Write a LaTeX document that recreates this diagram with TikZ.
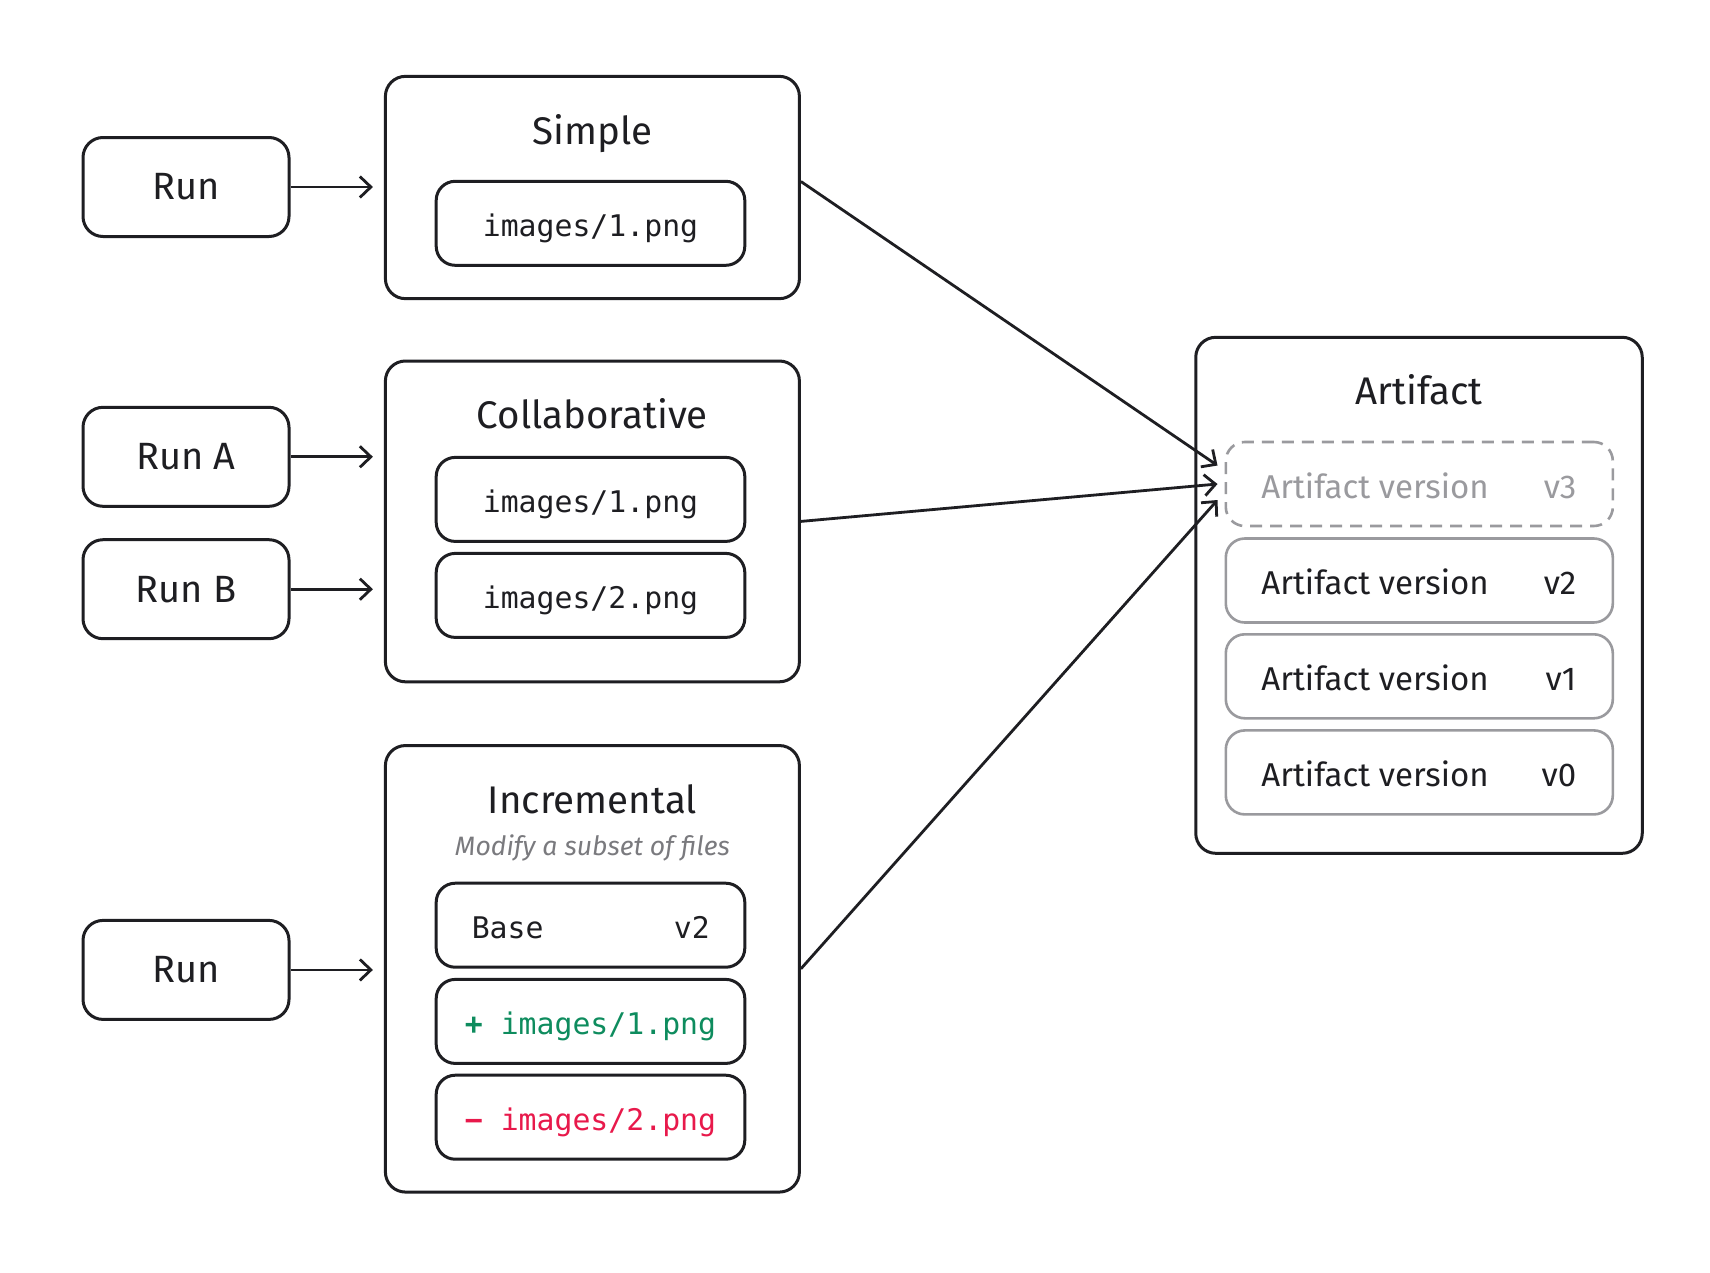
\documentclass[tikz,border=0pt]{standalone}
\usepackage{fontspec}
\setmainfont{Fira Sans}
\newfontfamily\monofont{DejaVu Sans Mono}
\usetikzlibrary{arrows.meta}
\definecolor{ink}{HTML}{1E1E22}
\definecolor{vgray}{HTML}{9A9A9E}
\definecolor{addgreen}{HTML}{0E8C5E}
\definecolor{delred}{HTML}{E8194B}
\definecolor{subgray}{HTML}{7A7A7E}
\begin{document}
\begin{tikzpicture}[x=1pt,y=-1pt,
  frame/.style={draw=ink, line width=3pt, rounded corners=20pt, inner sep=0pt, fill=white},
  container/.style={frame, minimum width=414pt},
  runbox/.style={frame, minimum width=206pt, minimum height=99pt, font=\fontsize{38}{44}\selectfont, text=ink},
  filebox/.style={frame, minimum width=308.6pt, minimum height=84pt, rounded corners=19pt},
  verbox/.style={draw=vgray, line width=2.6pt, rounded corners=19pt, inner sep=0pt, fill=white, minimum width=387pt, minimum height=84pt},
  title/.style={anchor=base, inner sep=0pt, font=\fontsize{38.5}{44}\selectfont, text=ink},
  subtitle/.style={anchor=base, inner sep=0pt, font=\itshape\fontsize{26.6}{32}\selectfont, text=subgray},
  mono/.style={anchor=base, inner sep=0pt, font=\monofont\fontsize{29.8}{34}\selectfont, text=ink},
  vertext/.style={inner sep=0pt, font=\fontsize{33}{40}\selectfont, text=ink},
  conn/.style={draw=ink, line width=2.8pt, -{Straight Barb[length=11pt, width=21pt]}},
]
\fill[white] (0,0) rectangle (1710,1272);
\useasboundingbox (0,0) rectangle (1710,1272);

% Run nodes
\node[runbox] (run1) at (186,187) {Run};
\node[runbox] (runA) at (186,456.8) {Run A};
\node[runbox] (runB) at (186,589.2) {Run B};
\node[runbox] (run2) at (186,969.9) {Run};

% Simple
\node[container, minimum height=222.3pt] (simple) at (592.4,187.5) {};
\node[title] (simpleT) at (592.4,144) {Simple};
\node[filebox] (simpleF) at (590.5,223.3) {};
\node[mono] (simpleFT) at (590.5,236.5) {images/1.png};

% Collaborative
\node[container, minimum height=320.8pt] (collab) at (592.4,521.4) {};
\node[title] (collabT) at (592.4,428.8) {Collaborative};
\node[filebox] (collabF1) at (590.5,499.4) {};
\node[mono] (collabF1T) at (590.5,512.6) {images/1.png};
\node[filebox] (collabF2) at (590.5,595.4) {};
\node[mono] (collabF2T) at (590.5,608.6) {images/2.png};

% Incremental
\node[container, minimum height=446.5pt] (incr) at (592.4,968.8) {};
\node[title] (incrT) at (592.4,813.3) {Incremental};
\node[subtitle] (incrS) at (592.4,855) {Modify a subset of files};
\node[filebox] (base) at (590.5,925.2) {};
\node[mono, anchor=base west] (baseL) at (471.6,938.4) {Base};
\node[mono, anchor=base east] (baseR) at (710,938.4) {v2};
\node[filebox] (plus) at (590.5,1021.4) {};
\node[mono, text=addgreen] (plusT) at (590.5,1034.6) {{\bfseries +} images/1.png};
\node[filebox] (minus) at (590.5,1117.2) {};
\node[mono, text=delred] (minusT) at (590.5,1130.4) {{\bfseries −} images/2.png};

% Artifact
\node[container, minimum width=446.5pt, minimum height=516pt] (art) at (1419,595.3) {};
\node[title] (artT) at (1419,404.7) {Artifact};
\node[verbox, dash pattern=on 12pt off 8pt] (v3) at (1419.3,484) {};
\node[vertext, anchor=base west, text=vgray] (v3L) at (1261.2,498) {Artifact version};
\node[vertext, anchor=base east, text=vgray] (v3R) at (1576.4,498) {v3};
\node[verbox] (v2) at (1419.3,580.5) {};
\node[vertext, anchor=base west] (v2L) at (1261.2,594.5) {Artifact version};
\node[vertext, anchor=base east] (v2R) at (1576.4,594.5) {v2};
\node[verbox] (v1) at (1419.3,676.3) {};
\node[vertext, anchor=base west] (v1L) at (1261.2,690.3) {Artifact version};
\node[vertext, anchor=base east] (v1R) at (1576.4,690.3) {v1};
\node[verbox] (v0) at (1419.3,772.4) {};
\node[vertext, anchor=base west] (v0L) at (1261.2,786.4) {Artifact version};
\node[vertext, anchor=base east] (v0R) at (1576.4,786.4) {v0};

% Connectors
\draw[conn, shorten >=11pt] (run1.east) -- (run1.east -| simple.west);
\draw[conn, shorten >=11pt] (runA.east) -- (runA.east -| collab.west);
\draw[conn, shorten >=11pt] (runB.east) -- (runB.east -| collab.west);
\draw[conn, shorten >=11pt] (run2.east) -- (run2.east -| incr.west);
\draw[conn] ([yshift=6pt]simple.east) -- ([xshift=-7pt,yshift=18.5pt]v3.west);
\draw[conn] (collab.east) -- ([xshift=-7pt]v3.west);
\draw[conn] (incr.east) -- ([xshift=-7pt,yshift=-16pt]v3.west);
\end{tikzpicture}
\end{document}
